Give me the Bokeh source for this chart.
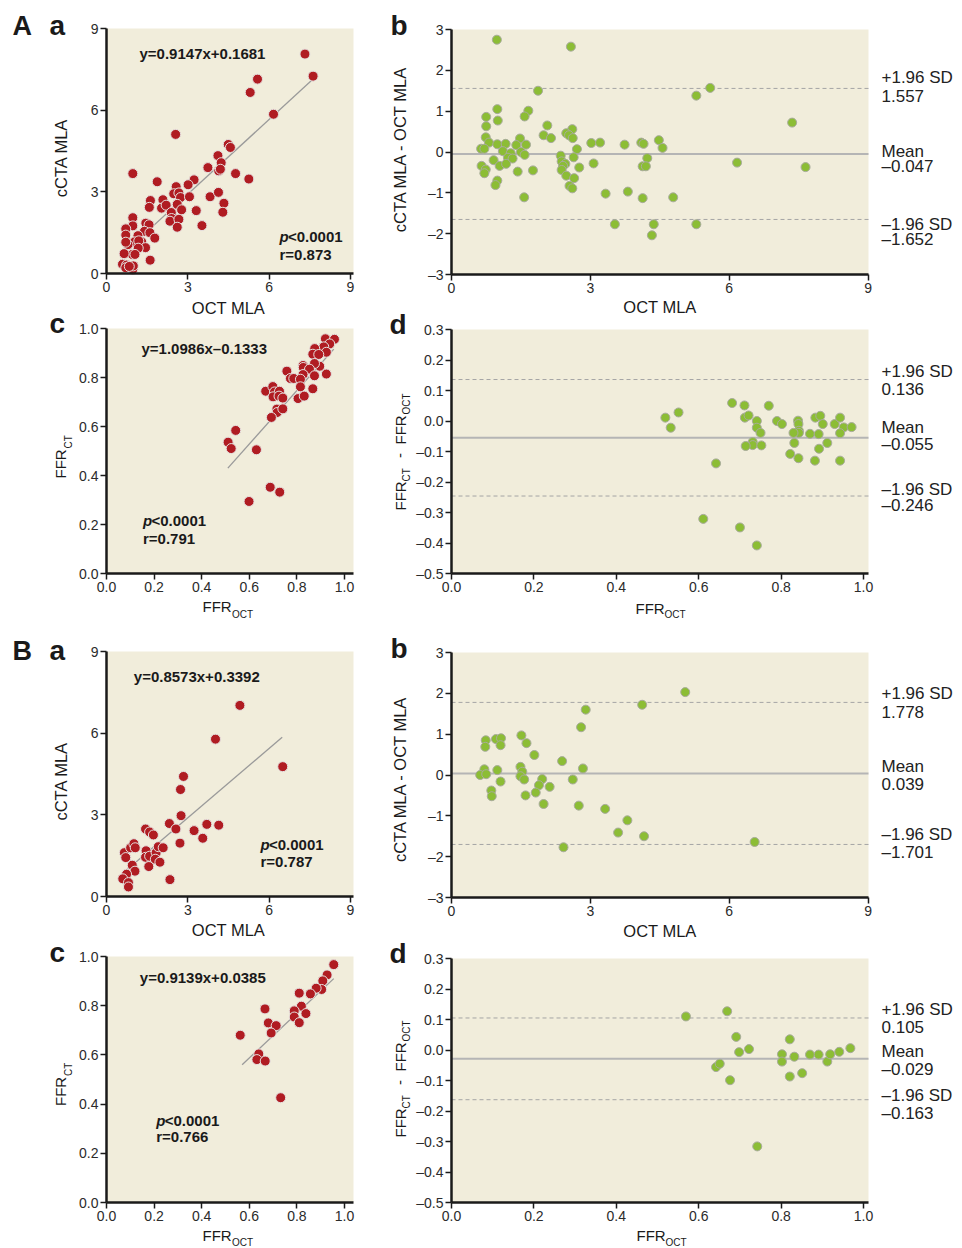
import math
from bokeh.plotting import figure
from bokeh.layouts import row, column
from bokeh.models import Range1d, FixedTicker, Label, BoxAnnotation
from bokeh.embed import file_html
from bokeh.resources import INLINE

# ---------------- data ----------------
# Panel A-a : cCTA MLA vs OCT MLA
aa_oct = [7.32, 7.62, 5.57, 5.30, 6.16, 2.55, 4.49, 4.57, 4.11, 4.23, 3.74, 4.14, 4.20, 4.76, 5.25,
          0.97, 1.87, 3.23, 3.01, 2.57, 2.48, 2.67, 2.73, 3.06, 3.82, 4.13, 1.62, 2.08, 1.58, 2.03,
          2.20, 2.61, 2.77, 3.31, 4.33, 4.29, 2.39, 2.40, 2.34, 2.67, 2.61, 3.52, 0.97, 0.97, 0.71,
          0.71, 1.45, 1.57, 1.40, 1.60, 1.78, 1.16, 1.03, 1.30, 0.79, 0.71, 1.19, 1.44, 1.17, 0.95,
          1.05, 0.65, 1.61, 0.59, 0.74, 0.71, 0.97, 0.99, 0.84]
aa_cta = [8.06, 7.25, 7.14, 6.65, 5.85, 5.11, 4.74, 4.63, 4.33, 4.07, 3.89, 3.77, 3.83, 3.67, 3.47,
          3.67, 3.37, 3.44, 3.26, 3.19, 2.93, 2.96, 2.79, 2.82, 2.82, 2.98, 2.68, 2.71, 2.43, 2.40,
          2.51, 2.54, 2.34, 2.31, 2.58, 2.25, 2.24, 2.02, 1.92, 1.99, 1.70, 1.76, 2.05, 1.75, 1.64,
          1.41, 1.85, 1.79, 1.55, 1.50, 1.30, 1.39, 1.16, 1.16, 1.06, 1.15, 1.20, 0.95, 0.93, 0.70,
          0.70, 0.73, 0.49, 0.34, 0.31, 0.21, 0.15, 0.28, 0.26]
aa_fit_x = [0.85, 7.65]
aa_fit_y = [0.95, 7.17]
aa_eq = "y=0.9147x+0.1681"
aa_p = "<0.0001"
aa_r = "r=0.873"

# Panel A-b : Bland-Altman MLA
ab_oct = [0.98, 2.58, 1.87, 5.29, 5.59, 7.36, 0.99, 1.66, 0.75, 1.58, 1.00, 0.75, 2.07, 2.61, 2.48,
          2.54, 2.62, 1.99, 2.15, 0.74, 1.48, 0.81, 0.99, 1.17, 1.40, 1.61, 3.02, 3.21, 3.74, 4.10,
          4.15, 4.48, 4.56, 2.71, 0.64, 0.71, 1.11, 1.28, 1.50, 1.58, 2.36, 2.64, 1.22, 1.32, 4.23,
          0.91, 2.38, 2.46, 2.41, 3.07, 6.17, 1.04, 1.18, 0.65, 0.74, 0.71, 1.43, 1.76, 2.38, 2.76,
          4.13, 4.20, 7.65, 2.48, 2.65, 0.99, 0.95, 2.55, 2.61, 3.33, 3.81, 1.57, 4.13, 4.79, 3.53,
          4.37, 5.29, 4.33]
ab_diff = [2.75, 2.58, 1.50, 1.38, 1.57, 0.72, 1.05, 1.01, 0.86, 0.87, 0.77, 0.63, 0.65, 0.56, 0.46,
           0.41, 0.34, 0.41, 0.34, 0.36, 0.33, 0.23, 0.19, 0.20, 0.17, 0.18, 0.22, 0.23, 0.18, 0.23,
           0.20, 0.29, 0.10, 0.07, 0.08, 0.08, 0.02, -0.03, 0.00, -0.07, -0.09, -0.13, -0.14, -0.16, -0.15,
           -0.20, -0.23, -0.29, -0.34, -0.28, -0.26, -0.34, -0.29, -0.34, -0.43, -0.52, -0.48, -0.45, -0.44, -0.38,
           -0.35, -0.35, -0.37, -0.58, -0.64, -0.70, -0.81, -0.83, -0.89, -1.02, -0.97, -1.11, -1.13, -1.11, -1.77,
           -1.77, -1.77, -2.04]
ab_mean = -0.047
ab_upper = 1.557
ab_lower = -1.652

# Panel A-c : FFR-CT vs FFR-OCT
ac_ffr_oct = [0.920, 0.958, 0.938, 0.913, 0.875, 0.924, 0.867, 0.892, 0.826, 0.827, 0.896, 0.874, 0.853, 0.826,
              0.758, 0.773, 0.787, 0.815, 0.874, 0.924, 0.669, 0.699, 0.706, 0.727, 0.700, 0.725, 0.741, 0.815,
              0.867, 0.805, 0.831, 0.716, 0.717, 0.741, 0.693, 0.543, 0.511, 0.524, 0.630, 0.599, 0.688, 0.728]
ac_ffr_ct = [0.958, 0.956, 0.937, 0.925, 0.918, 0.903, 0.895, 0.894, 0.849, 0.841, 0.846, 0.857, 0.834, 0.812,
             0.826, 0.796, 0.796, 0.793, 0.807, 0.814, 0.744, 0.763, 0.741, 0.744, 0.721, 0.724, 0.716, 0.762,
             0.754, 0.714, 0.724, 0.671, 0.657, 0.672, 0.637, 0.584, 0.536, 0.510, 0.505, 0.294, 0.352, 0.332]
ac_fit_x = [0.51, 0.955]
ac_fit_y = [0.43, 0.916]
ac_eq = "y=1.0986x\u20130.1333"
ac_p = "<0.0001"
ac_r = "r=0.791"

# Panel A-d : Bland-Altman FFR
ad_ffr_oct = [0.519, 0.532, 0.551, 0.642, 0.611, 0.700, 0.741, 0.681, 0.711, 0.770, 0.712, 0.721, 0.741, 0.741,
              0.750, 0.731, 0.731, 0.714, 0.752, 0.790, 0.802, 0.841, 0.842, 0.843, 0.843, 0.830, 0.832, 0.822,
              0.842, 0.870, 0.883, 0.895, 0.901, 0.891, 0.892, 0.912, 0.882, 0.930, 0.943, 0.952, 0.971, 0.943,
              0.943]
ad_diff = [0.011, -0.022, 0.028, -0.139, -0.321, -0.349, -0.408, 0.059, 0.051, 0.050, 0.011, 0.018, 0.000, -0.022,
           -0.039, -0.069, -0.079, -0.082, -0.080, 0.000, -0.010, 0.001, -0.010, -0.032, -0.039, -0.039, -0.072, -0.108,
           -0.122, -0.042, 0.011, 0.017, -0.010, -0.043, -0.091, -0.072, -0.130, -0.010, 0.011, -0.021, -0.020, -0.040,
           -0.130]
ad_mean = -0.055
ad_upper = 0.136
ad_lower = -0.246

# Panel B-a : cCTA MLA vs OCT MLA
ba_oct = [4.92, 4.02, 6.50, 2.84, 2.73, 2.75, 2.32, 2.56, 3.23, 3.70, 4.14, 3.55, 2.71, 1.44, 1.59,
          1.73, 0.66, 0.71, 0.89, 1.01, 1.06, 1.46, 1.44, 1.59, 1.83, 1.91, 2.09, 1.80, 1.97, 0.95,
          1.56, 1.05, 0.74, 0.60, 0.81, 0.81, 2.34]
ba_cta = [7.02, 5.78, 4.77, 4.41, 3.93, 2.97, 2.68, 2.48, 2.42, 2.65, 2.62, 2.14, 1.96, 2.48, 2.37,
          2.26, 1.61, 1.43, 1.79, 1.94, 1.79, 1.68, 1.44, 1.48, 1.61, 1.83, 1.79, 1.37, 1.26, 1.15,
          1.10, 0.93, 0.82, 0.65, 0.51, 0.35, 0.62]
ba_fit_x = [0.70, 6.48]
ba_fit_y = [0.94, 5.85]
ba_eq = "y=0.8573x+0.3392"
ba_p = "<0.0001"
ba_r = "r=0.787"

# Panel B-b : Bland-Altman MLA
bb_oct = [5.05, 4.12, 2.90, 2.80, 1.51, 1.62, 0.74, 0.73, 0.96, 1.07, 1.06, 1.79, 2.39, 1.49, 1.53,
          2.84, 0.71, 0.99, 0.62, 0.75, 1.49, 1.57, 1.96, 2.62, 1.06, 1.89, 2.12, 0.86, 1.82, 0.87,
          1.60, 1.99, 2.75, 3.32, 3.80, 3.60, 4.16, 2.42, 6.55]
bb_diff = [2.03, 1.72, 1.60, 1.17, 0.97, 0.78, 0.85, 0.69, 0.88, 0.90, 0.73, 0.49, 0.34, 0.20, 0.08,
           0.16, 0.14, 0.12, 0.00, 0.02, -0.03, -0.11, -0.10, -0.11, -0.16, -0.25, -0.29, -0.38, -0.43, -0.52,
           -0.50, -0.71, -0.75, -0.83, -1.11, -1.41, -1.50, -1.77, -1.64]
bb_mean = 0.039
bb_upper = 1.778
bb_lower = -1.701

# Panel B-c : FFR-CT vs FFR-OCT
bc_ffr_oct = [0.955, 0.927, 0.909, 0.904, 0.881, 0.857, 0.810, 0.819, 0.789, 0.789, 0.838, 0.810, 0.666, 0.680,
              0.713, 0.692, 0.562, 0.640, 0.632, 0.667, 0.732]
bc_ffr_ct = [0.967, 0.925, 0.901, 0.866, 0.871, 0.848, 0.851, 0.798, 0.779, 0.754, 0.768, 0.731, 0.787, 0.730,
             0.719, 0.689, 0.680, 0.604, 0.581, 0.575, 0.426]
bc_fit_x = [0.57, 0.955]
bc_fit_y = [0.56, 0.91]
bc_eq = "y=0.9139x+0.0385"
bc_p = "<0.0001"
bc_r = "r=0.766"

# Panel B-d : Bland-Altman FFR
bd_ffr_oct = [0.569, 0.669, 0.691, 0.698, 0.722, 0.642, 0.651, 0.676, 0.742, 0.821, 0.802, 0.802, 0.832, 0.821,
              0.851, 0.870, 0.891, 0.912, 0.919, 0.941, 0.968]
bd_diff = [0.110, 0.127, 0.043, -0.007, 0.003, -0.056, -0.045, -0.099, -0.316, 0.035, -0.014, -0.038, -0.022, -0.087,
           -0.076, -0.015, -0.015, -0.038, -0.014, -0.006, 0.006]
bd_mean = -0.029
bd_upper = 0.105
bd_lower = -0.163

# ticks
mla_ticks = [0, 3, 6, 9]
diff_mla_ticks = [-3, -2, -1, 0, 1, 2, 3]
ffr_ticks = [0.0, 0.2, 0.4, 0.6, 0.8, 1.0]
diff_ffr_ticks = [-0.5, -0.4, -0.3, -0.2, -0.1, 0.0, 0.1, 0.2, 0.3]

# ---------------- style ----------------
BG = "#f1eddb"
RED = "#b01c22"
GREEN = "#8cbd35"
INK = "#1a1a1a"
FONT = "Liberation Sans"
DASH = "\u2013"


def fmt_int(v):
    return f"{v:d}".replace("-", DASH)


def fmt_1(v):
    return f"{v:.1f}".replace("-", DASH)


class Geo:
    """Figure rectangle and data rectangle, in picture pixels; the plot frame fills the figure."""
    def __init__(self, left, top, w, h, dl, dt, dr, db, xr, yr):
        self.left, self.top, self.w, self.h = left, top, w, h
        self.xr, self.yr = xr, yr
        self.sx = (xr[1] - xr[0]) / (dr - dl)
        self.sy = (yr[1] - yr[0]) / (db - dt)
        self.x0 = xr[0] - (dl - left) * self.sx
        self.x1 = xr[1] + (left + w - dr) * self.sx
        self.y1 = yr[1] + (dt - top) * self.sy
        self.y0 = yr[0] - (top + h - db) * self.sy

    def data(self, px, py):
        return self.x0 + (px - self.left) * self.sx, self.y1 - (py - self.top) * self.sy


def make_fig(g, xticks, yticks, xfmt, yfmt):
    p = figure(width=g.w, height=g.h, x_range=Range1d(g.x0, g.x1), y_range=Range1d(g.y0, g.y1),
               output_backend="svg", toolbar_location=None, title=None,
               min_border_left=0, min_border_right=0, min_border_top=0, min_border_bottom=0)
    p.background_fill_color = "white"
    p.border_fill_color = "white"
    p.outline_line_color = None
    p.grid.visible = False
    p.add_layout(BoxAnnotation(left=g.xr[0], right=g.xr[1], bottom=g.yr[0], top=g.yr[1],
                               fill_color=BG, fill_alpha=1.0, line_color=None, level="underlay"))
    p.xaxis.fixed_location = g.yr[0]
    p.xaxis.bounds = g.xr
    p.yaxis.fixed_location = g.xr[0]
    p.yaxis.bounds = g.yr
    for ax, ticks, fmt in ((p.xaxis[0], xticks, xfmt), (p.yaxis[0], yticks, yfmt)):
        ax.ticker = FixedTicker(ticks=ticks)
        ax.major_label_overrides = {t: fmt(t) for t in ticks}
        ax.axis_line_width = 2.5
        ax.axis_line_color = INK
        ax.major_tick_line_color = INK
        ax.major_tick_line_width = 1.5
        ax.major_tick_out = 6
        ax.major_tick_in = 0
        ax.minor_tick_line_color = None
        ax.major_label_text_font = FONT
        ax.major_label_text_font_size = "14px"
        ax.major_label_text_color = "#2b2b2b"
        ax.major_label_standoff = 2
    return p


def txt(p, g, px, py, s, size, style="normal", align="left", angle=0.0, color=INK):
    """(px, py) is the text's baseline point in picture pixels; drawn centred on its caps."""
    off = 0.36 * size
    if angle == 0.0:
        cx, cy = px, py - off
    else:
        cx, cy = px - off, py
    x, y = g.data(cx, cy)
    p.add_layout(Label(x=x, y=y, text=s, text_font=FONT, text_font_size=f"{size}px",
                       text_font_style=style, text_align=align, text_baseline="middle",
                       angle=angle, text_color=color))


def scatter_panel(g, xs, ys, fx, fy, eq, pv, rv, eq_pos, p_pos, r_pos, mla):
    ticks = mla_ticks if mla else ffr_ticks
    fmt = fmt_int if mla else fmt_1
    p = make_fig(g, ticks, ticks, fmt, fmt)
    p.line(fx, fy, line_color="#9a9a9a", line_width=1.3)
    p.scatter(xs, ys, size=10, fill_color=RED, line_color="#e6e2e0", line_width=1)
    txt(p, g, eq_pos[0], eq_pos[1], eq, 15, style="bold")
    txt(p, g, p_pos[0], p_pos[1], "p", 15, style="bold italic")
    txt(p, g, p_pos[0] + 8.5, p_pos[1], pv, 15, style="bold")
    txt(p, g, r_pos[0], r_pos[1], rv, 15, style="bold")
    return p


def ba_panel(g, xs, ys, mean, up, lo, mla, ys_lbl):
    if mla:
        p = make_fig(g, mla_ticks, diff_mla_ticks, fmt_int, fmt_int)
    else:
        p = make_fig(g, ffr_ticks, diff_ffr_ticks, fmt_1, fmt_1)
    ends = [g.xr[0], g.xr[1]]
    p.line(ends, [mean, mean], line_color="#b5b5b5", line_width=2)
    for v in (up, lo):
        p.line(ends, [v, v], line_color="#a5a5a5", line_width=1, line_dash="4 3")
    p.scatter(xs, ys, size=9, fill_color=GREEN, line_color="#a8ab9c", line_width=1)
    texts = ["+1.96 SD", f"{up:.3f}".replace("-", DASH), "Mean",
             f"{mean:.3f}".replace("-", DASH), DASH + "1.96 SD", f"{lo:.3f}".replace("-", DASH)]
    for s, yy in zip(texts, ys_lbl):
        txt(p, g, 881, yy, s, 17, color="#222222")
    return p


ROT = math.pi / 2

# ---------------- geometry (picture pixels) ----------------
LW, RW = 380, 582
g_aa = Geo(0, 0, LW, 297, 106, 28, 353, 273, (0, 9.11), (0, 9))
g_ac = Geo(0, 297, LW, 331, 106, 328, 353, 573, (0, 1.038), (0, 1.0))
g_ba = Geo(0, 628, LW, 292, 106, 651, 353, 896, (0, 9.11), (0, 9))
g_bc = Geo(0, 920, LW, 328, 106, 956, 353, 1202, (0, 1.038), (0, 1.0))
g_ab = Geo(380, 0, RW, 297, 451, 29, 868, 274, (0, 9.01), (-3, 3))
g_ad = Geo(380, 297, RW, 329, 451, 329, 868, 573, (0, 1.012), (-0.5, 0.3))
g_bb = Geo(380, 626, RW, 295, 451, 652, 868, 897, (0, 9.01), (-3, 3))
g_bd = Geo(380, 921, RW, 327, 451, 958, 868, 1202, (0, 1.012), (-0.5, 0.3))

# ---------------- panels ----------------
p_aa = scatter_panel(g_aa, aa_oct, aa_cta, aa_fit_x, aa_fit_y, aa_eq, aa_p, aa_r,
                     (139, 58), (279, 241), (279, 259), True)
txt(p_aa, g_aa, 12, 35, "A", 27, style="bold")
txt(p_aa, g_aa, 49, 35, "a", 28, style="bold")
txt(p_aa, g_aa, 66.5, 157.5, "cCTA MLA", 16.5, align="center", angle=ROT)

p_ac = scatter_panel(g_ac, ac_ffr_oct, ac_ffr_ct, ac_fit_x, ac_fit_y, ac_eq, ac_p, ac_r,
                     (141, 353), (142.5, 525), (142.5, 543), False)
# x-axis title of panel A-a lies just above panel A-c
txt(p_ac, g_ac, 228, 313, "OCT MLA", 16.5, align="center")
txt(p_ac, g_ac, 49, 333, "c", 28, style="bold")
txt(p_ac, g_ac, 202, 611.5, "FFR", 15)
txt(p_ac, g_ac, 231.5, 618, "OCT", 10)
txt(p_ac, g_ac, 65, 478, "FFR", 15, angle=ROT)
txt(p_ac, g_ac, 71.5, 448, "CT", 10, angle=ROT)

p_ba = scatter_panel(g_ba, ba_oct, ba_cta, ba_fit_x, ba_fit_y, ba_eq, ba_p, ba_r,
                     (133.3, 681), (260, 849), (260, 866.5), True)
txt(p_ba, g_ba, 12, 660, "B", 27, style="bold")
txt(p_ba, g_ba, 49, 660, "a", 28, style="bold")
txt(p_ba, g_ba, 66.5, 780.8, "cCTA MLA", 16.5, align="center", angle=ROT)

p_bc = scatter_panel(g_bc, bc_ffr_oct, bc_ffr_ct, bc_fit_x, bc_fit_y, bc_eq, bc_p, bc_r,
                     (139.3, 982.7), (155.7, 1125), (155.7, 1141.7), False)
txt(p_bc, g_bc, 228, 935.5, "OCT MLA", 16.5, align="center")
txt(p_bc, g_bc, 49, 962, "c", 28, style="bold")
txt(p_bc, g_bc, 202, 1240, "FFR", 15)
txt(p_bc, g_bc, 231.5, 1245.5, "OCT", 10)
txt(p_bc, g_bc, 65, 1105.5, "FFR", 15, angle=ROT)
txt(p_bc, g_bc, 71.5, 1075.5, "CT", 10, angle=ROT)

p_ab = ba_panel(g_ab, ab_oct, ab_diff, ab_mean, ab_upper, ab_lower, True,
                [83.5, 101.5, 157.5, 172, 230, 245])
txt(p_ab, g_ab, 390, 35, "b", 28, style="bold")
txt(p_ab, g_ab, 405, 148.5, "cCTA MLA - OCT MLA", 16.5, align="center", angle=ROT)

p_ad = ba_panel(g_ad, ad_ffr_oct, ad_diff, ad_mean, ad_upper, ad_lower, False,
                [377.5, 394.5, 433.5, 450, 495.5, 511.5])
txt(p_ad, g_ad, 659.5, 312.5, "OCT MLA", 16.5, align="center")
txt(p_ad, g_ad, 389, 334.5, "d", 28, style="bold")
txt(p_ad, g_ad, 635, 613.5, "FFR", 15)
txt(p_ad, g_ad, 664, 618, "OCT", 10)
txt(p_ad, g_ad, 405, 510, "FFR", 15, angle=ROT)
txt(p_ad, g_ad, 410, 481, "CT", 10, angle=ROT)
txt(p_ad, g_ad, 405, 455, "-", 15, align="center", angle=ROT)
txt(p_ad, g_ad, 405, 444, "FFR", 15, angle=ROT)
txt(p_ad, g_ad, 410, 414, "OCT", 10, angle=ROT)

p_bb = ba_panel(g_bb, bb_oct, bb_diff, bb_mean, bb_upper, bb_lower, True,
                [699, 718, 772, 790, 840, 858])
txt(p_bb, g_bb, 390, 658, "b", 28, style="bold")
txt(p_bb, g_bb, 405, 778.3, "cCTA MLA - OCT MLA", 16.5, align="center", angle=ROT)

p_bd = ba_panel(g_bd, bd_ffr_oct, bd_diff, bd_mean, bd_upper, bd_lower, False,
                [1015, 1033, 1057, 1075, 1101, 1119])
txt(p_bd, g_bd, 659.5, 936.5, "OCT MLA", 16.5, align="center")
txt(p_bd, g_bd, 389, 963, "d", 28, style="bold")
txt(p_bd, g_bd, 636, 1240, "FFR", 15)
txt(p_bd, g_bd, 665, 1245.5, "OCT", 10)
txt(p_bd, g_bd, 405, 1137, "FFR", 15, angle=ROT)
txt(p_bd, g_bd, 410, 1108, "CT", 10, angle=ROT)
txt(p_bd, g_bd, 405, 1082, "-", 15, align="center", angle=ROT)
txt(p_bd, g_bd, 405, 1071, "FFR", 15, angle=ROT)
txt(p_bd, g_bd, 410, 1041, "OCT", 10, angle=ROT)

layout = row(column(p_aa, p_ac, p_ba, p_bc, spacing=0),
             column(p_ab, p_ad, p_bb, p_bd, spacing=0), spacing=0)

open("out.html", "w").write(file_html(layout, INLINE))
